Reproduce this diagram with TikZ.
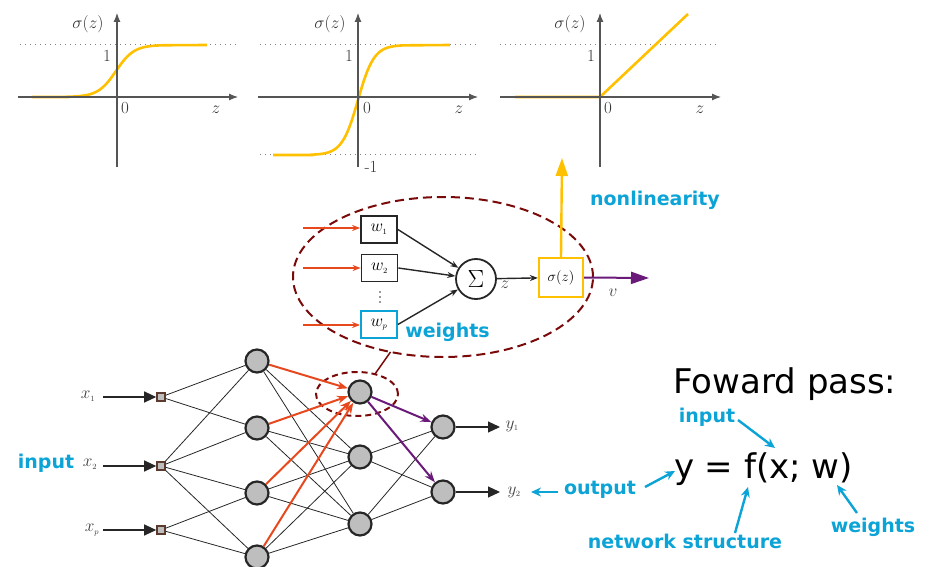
\documentclass[tikz,border=0pt]{standalone}
\usepackage{fontspec}
\newfontfamily\dejavu{DejaVu Sans}
\usetikzlibrary{arrows.meta,shapes.geometric}
\definecolor{sigy}{RGB}{255,192,0}
\definecolor{lblue}{RGB}{12,163,214}
\definecolor{redarr}{RGB}{232,72,30}
\definecolor{purp}{RGB}{106,27,122}
\definecolor{dred}{RGB}{122,10,10}
\definecolor{nodegray}{RGB}{190,190,190}
\definecolor{axisgray}{RGB}{85,85,85}
\definecolor{sqbrown}{RGB}{92,58,46}
\tikzset{
  axis/.style={draw=axisgray,line width=1.1pt,-{Latex[length=9pt,width=7pt]}},
  dotline/.style={draw=gray,line width=1pt,dash pattern=on 1pt off 4pt},
  curve/.style={draw=sigy,line width=2.6pt},
  plotlbl/.style={font=\fontsize{17}{17}\selectfont,text=black!80,inner sep=0pt},
  neuron/.style={circle,draw=black!85,line width=2.2pt,fill=nodegray,minimum size=23pt,inner sep=0pt},
  insq/.style={rectangle,draw=sqbrown,line width=1.6pt,fill=nodegray,minimum size=8pt,inner sep=0pt},
  conn/.style={draw=black!85,line width=0.8pt},
  redarrow/.style={draw=redarr,line width=2pt,-{Stealth[length=11pt,width=8pt]}},
  purparrow/.style={draw=purp,line width=2pt,-{Stealth[length=11pt,width=8pt]}},
  inarrow/.style={draw=black!85,line width=1.2pt,-{Triangle[length=12pt,width=11pt]}},
  wbox/.style={rectangle,draw=black!85,line width=1.8pt,minimum width=36pt,minimum height=27pt,inner sep=0pt,font=\fontsize{17}{17}\selectfont},
  bluelbl/.style={font=\dejavu\bfseries\fontsize{19}{19}\selectfont,text=lblue,inner sep=0pt},
  bluearr/.style={draw=lblue,line width=2.4pt,-{Stealth[length=10pt,width=9pt]}},
  biglbl/.style={font=\dejavu\fontsize{34}{34}\selectfont,text=black,inner sep=0pt},
  smalllbl/.style={font=\fontsize{16}{16}\selectfont,text=black!75,inner sep=0pt},
  tinydot/.style={circle,fill=black!80,minimum size=1.8pt,inner sep=0pt},
}
\begin{document}
\begin{tikzpicture}[x=1pt,y=-1pt]
\useasboundingbox (0,0) rectangle (937,567);

% ---------- plot 1: sigmoid ----------
\draw[dotline] (20,45) -- (237,45);
\draw[curve] (32,97) -- (68,97) -- plot[domain=68:164,samples=80] (\x,{97-52/(1+exp(-(\x-116)/9))}) -- (207,45);
\draw[axis] (117,167) -- (117,13);
\draw[axis] (18,97) -- (238,97);
\node[plotlbl] (p1s) at (88,24) {$\sigma(z)$};
\node[plotlbl] (p1one) at (107,56) {1};
\node[plotlbl] (p1zero) at (125,108) {0};
\node[plotlbl] (p1z) at (216,110) {$z$};

% ---------- plot 2: tanh ----------
\draw[dotline] (260,45) -- (477,45);
\draw[dotline] (260,155) -- (477,155);
\draw[curve] (273,155) -- (312,155) -- plot[domain=312:404,samples=80] (\x,{100-55*(2/(1+exp(-2*(\x-358)/16))-1)}) -- (450,45);
\draw[axis] (358,167) -- (358,13);
\draw[axis] (258,97) -- (478,97);
\node[plotlbl] (p2s) at (330,24) {$\sigma(z)$};
\node[plotlbl] (p2one) at (349,56) {1};
\node[plotlbl] (p2zero) at (367,108) {0};
\node[plotlbl] (p2z) at (459,110) {$z$};
\node[plotlbl] (p2m) at (371,167) {-1};

% ---------- plot 3: ReLU ----------
\draw[dotline] (500,45) -- (718,45);
\draw[curve] (515,97) -- (600,97) -- (688,14);
\draw[axis] (600,167) -- (600,13);
\draw[axis] (500,97) -- (721,97);
\node[plotlbl] (p3s) at (570,24) {$\sigma(z)$};
\node[plotlbl] (p3one) at (591,56) {1};
\node[plotlbl] (p3zero) at (608,108) {0};
\node[plotlbl] (p3z) at (700,110) {$z$};

% ---------- single neuron ----------
\node[ellipse,draw=dred,line width=2pt,dash pattern=on 9pt off 5pt,minimum width=300pt,minimum height=160pt,inner sep=0pt,outer sep=0pt] (bigell) at (443,277) {};
\node[wbox] (w1) at (379,229.5) {$w_{\scriptscriptstyle 1}$};
\node[wbox] (w2) at (379.5,268) {$w_{\scriptscriptstyle 2}$};
\node[wbox,draw=lblue] (wp) at (379,324.5) {$w_{\scriptscriptstyle p}$};
\node[tinydot] (d1) at (380,292) {};
\node[tinydot] (d2) at (380,297) {};
\node[tinydot] (d3) at (380,302) {};
\node[circle,draw=black!85,line width=1.8pt,minimum size=40pt,inner sep=0pt,font=\fontsize{24}{24}\selectfont] (sum) at (476,279) {$\Sigma$};
\node[rectangle,draw=sigy,line width=2.2pt,minimum width=44pt,minimum height=39pt,inner sep=0pt,font=\fontsize{15}{15}\selectfont] (act) at (561,277.5) {$\sigma(z)$};
\coordinate (r1) at (303,228);
\coordinate (r2) at (303,268);
\coordinate (r3) at (303,325);
\draw[draw=redarr,line width=1.8pt,-{Stealth[length=8pt,width=6pt]}] (r1) -- (w1.west |- r1);
\draw[draw=redarr,line width=1.8pt,-{Stealth[length=8pt,width=6pt]}] (r2) -- (w2.west |- r2);
\draw[draw=redarr,line width=1.8pt,-{Stealth[length=8pt,width=6pt]}] (r3) -- (wp.west |- r3);
\draw[draw=black!85,line width=1.4pt,-{Stealth[length=8pt,width=6pt]}] (w1.east) -- (sum);
\draw[draw=black!85,line width=1.4pt,-{Stealth[length=8pt,width=6pt]}] (w2.east) -- (sum);
\draw[draw=black!85,line width=1.4pt,-{Stealth[length=8pt,width=6pt]}] (wp.east) -- (sum);
\draw[draw=black!85,line width=1.4pt,-{Stealth[length=8pt,width=6pt]}] (sum) -- (act);
\node[smalllbl,font=\fontsize{17}{17}\selectfont] (zl) at (505,285) {$z$};
\coordinate (vout) at (649,278);
\draw[draw=purp,line width=2pt,-{Triangle[length=18pt,width=12pt]}] (act.east) -- (vout);
\node[smalllbl,font=\fontsize{16}{16}\selectfont] (vl) at (613,293) {$v$};
\coordinate (nlt) at (562,158);
\draw[draw=sigy,line width=2.4pt,-{Triangle[length=18pt,width=12pt]}] (act.north) -- (nlt);
\node[bluelbl,anchor=base] (nonlin) at (655,205) {nonlinearity};
\node[bluelbl,anchor=base] (wlbl) at (447.5,337) {weights};

% ---------- network ----------
\node[ellipse,draw=dred,line width=2pt,dash pattern=on 6pt off 4pt,minimum width=82pt,minimum height=44pt,inner sep=0pt,outer sep=0pt] (smell) at (357,394) {};
\draw[draw=dred,line width=1.5pt] (bigell.-125) -- (smell.48);

\foreach \i/\y in {1/361,2/428,3/493,4/557} \node[neuron] (a\i) at (257,\y) {};
\foreach \i/\y in {1/392,2/457,3/524} \node[neuron] (b\i) at (360,\y) {};
\foreach \i/\y in {1/427,2/492} \node[neuron] (c\i) at (443,\y) {};
\foreach \i/\y in {1/397,2/466,3/530} {
  \node[insq] (s\i) at (161,\y) {};
  \coordinate (i\i) at (103,\y);
}
\foreach \i/\y in {1/427,2/492} \coordinate (o\i) at (500,\y);

% input to layer 1
\draw[conn] (s1) -- (a1); \draw[conn] (s1) -- (a2);
\draw[conn] (s2) -- (a1); \draw[conn] (s2) -- (a2); \draw[conn] (s2) -- (a3); \draw[conn] (s2) -- (a4);
\draw[conn] (s3) -- (a3); \draw[conn] (s3) -- (a4);
% layer 1 to layer 2
\foreach \i in {1,...,4} \foreach \j in {2,3} \draw[conn] (a\i) -- (b\j);
\foreach \i in {1,...,4} \draw[redarrow] (a\i) -- (b1);
% layer 2 to layer 3
\foreach \j in {2,3} \foreach \k in {1,2} \draw[conn] (b\j) -- (c\k);
\draw[purparrow] (b1) -- (c1);
\draw[purparrow] (b1) -- (c2);
% in / out arrows
\foreach \i in {1,2,3} \draw[inarrow] (i\i) -- (s\i.west);
\draw[inarrow] (c1) -- (o1);
\draw[inarrow] (c2) -- (o2);

\node[smalllbl] (x1l) at (88,396) {$x_{\scriptscriptstyle 1}$};
\node[smalllbl] (x2l) at (90,464) {$x_{\scriptscriptstyle 2}$};
\node[smalllbl] (xpl) at (92,530) {$x_{\scriptscriptstyle p}$};
\node[smalllbl] (y1l) at (512,426) {$y_{\scriptscriptstyle 1}$};
\node[smalllbl] (y2l) at (514,492) {$y_{\scriptscriptstyle 2}$};
\node[bluelbl,anchor=base] (inl) at (46,468) {input};

% ---------- forward pass ----------
\node[biglbl,anchor=base] (fp) at (785,393) {Foward pass:};
\node[biglbl,anchor=base] (eq) at (763.5,478) {y = f(x; w)};
\node[bluelbl,anchor=base] (inr) at (707,422) {input};
\node[bluelbl,anchor=base] (outl) at (600,494) {output};
\node[bluelbl,anchor=base] (netl) at (685,548) {network structure};
\node[bluelbl,anchor=base] (wr) at (873,532) {weights};
\coordinate (ta) at (738,420); \coordinate (tb) at (775,448);
\draw[bluearr] (ta) -- (tb);
\coordinate (oa) at (645,487); \coordinate (ob) at (675,471);
\draw[bluearr] (oa) -- (ob);
\coordinate (oc) at (558,492); \coordinate (od) at (531,492);
\draw[bluearr] (oc) -- (od);
\coordinate (na) at (735,533); \coordinate (nb) at (748,487);
\draw[bluearr] (na) -- (nb);
\coordinate (wa) at (857,513); \coordinate (wb) at (837,485);
\draw[bluearr] (wa) -- (wb);
\end{tikzpicture}
\end{document}
